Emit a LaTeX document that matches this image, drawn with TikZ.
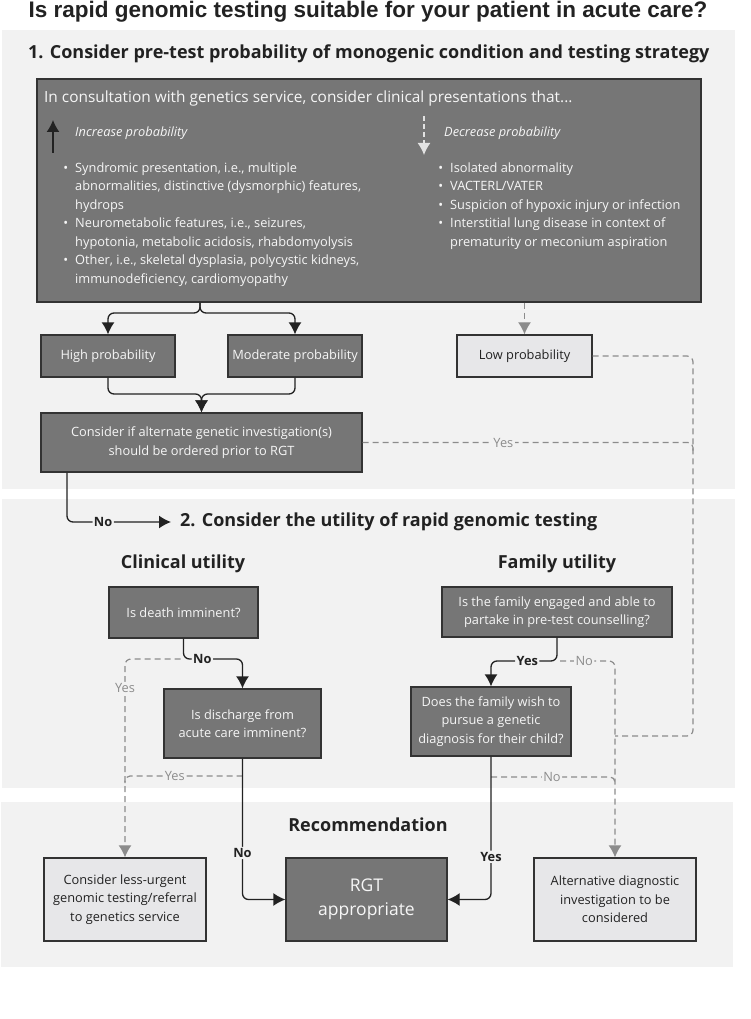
\documentclass[tikz,border=0pt]{standalone}
\usepackage{fontspec}
\setmainfont{Open Sans}
\newfontfamily\titlefont{Liberation Sans}
\usetikzlibrary{arrows.meta}
\tikzset{>={Latex[width=13pt,length=12pt]}}
\definecolor{ColorBg}{RGB}{242,242,242}
\definecolor{ColorDark}{RGB}{118,118,118}
\definecolor{ColorLight}{RGB}{231,231,233}
\definecolor{ColorEdge}{RGB}{51,51,51}
\definecolor{ColorDash}{RGB}{140,140,140}
\definecolor{ColorPale}{RGB}{226,226,226}
\definecolor{ColorText}{RGB}{246,246,246}
\definecolor{ColorInk}{RGB}{34,34,34}
\newcommand{\boxfont}{\fontsize{12.8}{18.5}\selectfont}
\newcommand{\headfont}{\fontsize{18}{22}\selectfont\bfseries}
\newcommand{\bul}{\llap{\textbullet\hspace{7pt}}}
\tikzset{
  darkbox/.style={draw=ColorEdge,line width=1.3pt,fill=ColorDark,text=ColorText,align=center,inner sep=0pt,font=\boxfont},
  lightbox/.style={darkbox,fill=ColorLight,text=ColorInk},
  conn/.style={draw=ColorInk,line width=1.3pt},
  dashline/.style={draw=ColorDash,line width=1.2pt,dash pattern=on 6pt off 4pt},
  lbl/.style={fill=ColorBg,inner sep=1.5pt,text=ColorDash,font=\boxfont},
  blbl/.style={fill=ColorBg,inner sep=1.5pt,text=ColorInk,font=\boxfont\bfseries},
  secHead/.style={inner sep=0pt,text=ColorInk,font=\headfont}
}

\begin{document}
\begin{tikzpicture}[x=1pt,y=-1pt]
		\useasboundingbox (0,0) rectangle (750,1019);
		% section backgrounds
		\fill[ColorBg] (2,30) rectangle (735,489);
		\fill[ColorBg] (2,499) rectangle (735,788);
		\fill[ColorBg] (1,802) rectangle (733,967);

		% title
		\node[anchor=base,inner sep=0pt,text=ColorInk] (title) at (368,18) {\titlefont\fontsize{22.5}{27}\selectfont\bfseries Is rapid genomic testing suitable for your patient in acute care?};

		% 1. pre-test probability
		\node[secHead,anchor=base west] (head1) at (28,59) {1. Consider pre-test probability of monogenic condition and testing strategy};
		\node[darkbox,minimum width=664,minimum height=223] (pres) at (369,190.5) {};
		\node[anchor=base west,inner sep=0pt,text=ColorText,font=\fontsize{15.4}{18}\selectfont] (intro) at (44,103) {In consultation with genetics service, consider clinical presentations that...};
		\node[anchor=west,inner sep=0pt,text=ColorText,font=\boxfont\itshape] (incr) at (75,133) {Increase probability};
		\node[anchor=west,inner sep=0pt,text=ColorText,font=\boxfont\itshape] (decr) at (444,133) {Decrease probability};
		\coordinate (upA) at (53,153);
		\coordinate (upB) at (53,120);
		\coordinate (dnA) at (424,116);
		\coordinate (dnB) at (424,155);
		\draw[->,conn] (upA) -- (upB);
		\draw[->,draw=ColorPale,line width=1.3pt,dash pattern=on 5pt off 3pt] (dnA) -- (dnB);
		\node[anchor=north west,inner sep=0pt,align=left,text=ColorText,font=\boxfont] (incrlist) at (75,162.5) {\bul Syndromic presentation, i.e., multiple\\abnormalities, distinctive (dysmorphic) features,\\hydrops\\\bul Neurometabolic features, i.e., seizures,\\hypotonia, metabolic acidosis, rhabdomyolysis\\\bul Other, i.e., skeletal dysplasia, polycystic kidneys,\\immunodeficiency, cardiomyopathy};
		\node[anchor=north west,inner sep=0pt,align=left,text=ColorText,font=\boxfont] (decrlist) at (450,162.5) {\bul Isolated abnormality\\\bul VACTERL/VATER\\\bul Suspicion of hypoxic injury or infection\\\bul Interstitial lung disease in context of\\prematurity or meconium aspiration};

		\node[darkbox,minimum width=134,minimum height=42] (high) at (108,356) {High probability};
		\node[darkbox,minimum width=134,minimum height=42] (mod) at (295,356) {Moderate probability};
		\node[lightbox,minimum width=135,minimum height=42] (low) at (524.5,356) {Low probability};
		\node[darkbox,minimum width=321,minimum height=59] (alt) at (201.5,442.5) {Consider if alternate genetic investigation(s)\\should be ordered prior to RGT};

		\coordinate (brc) at (200,313);
		\coordinate (mrg) at (0,394);
		\draw[->,conn,rounded corners=6] (pres.south -| brc) |- (high.north |- brc) -- (high.north);
		\draw[->,conn,rounded corners=6] (pres.south -| brc) |- (mod.north |- brc) -- (mod.north);
		\draw[->,conn,rounded corners=6] (high.south) |- (alt.north |- mrg) -- (alt.north);
		\draw[->,conn,rounded corners=6] (mod.south) |- (alt.north |- mrg) -- (alt.north);
		\draw[->,dashline] (pres.south -| low.north) -- (low.north);

		% 2. utility
		\node[secHead,anchor=west] (head2) at (180,522) {2. Consider the utility of rapid genomic testing};
		\coordinate (nox) at (67,0);
		\draw[->,conn,rounded corners=6,shorten >=9pt] (alt.south -| nox) |- node[blbl,pos=0.66] {No} (head2.west);

		\node[secHead] (clin) at (183,564) {Clinical utility};
		\node[secHead] (fam) at (557,564) {Family utility};
		\node[darkbox,minimum width=149,minimum height=51] (death) at (183.5,612.5) {Is death imminent?};
		\node[darkbox,minimum width=230,minimum height=50] (engage) at (557,612) {Is the family engaged and able to\\partake in pre-test counselling?};
		\node[darkbox,minimum width=157,minimum height=69] (disch) at (242.5,723.5) {Is discharge from\\acute care imminent?};
		\node[darkbox,minimum width=160,minimum height=69] (wish) at (491,721.5) {Does the family wish to\\pursue a genetic\\diagnosis for their child?};

		% 3. recommendation
		\node[secHead] (recom) at (368,825) {Recommendation};
		\node[lightbox,minimum width=162,minimum height=83] (lessurg) at (125,899.5) {Consider less-urgent\\genomic testing/referral\\to genetics service};
		\node[darkbox,minimum width=161,minimum height=83,font=\fontsize{17.5}{24}\selectfont] (rgt) at (366.5,899.5) {RGT\\appropriate};
		\node[lightbox,minimum width=162,minimum height=83] (altdx) at (615,899.5) {Alternative diagnostic\\investigation to be\\considered};

		% clinical branch
		\coordinate (rowA) at (0,659);
		\coordinate (rowB) at (0,776);
		\draw[->,dashline,rounded corners=6] ([xshift=-3pt]death.south |- rowA) -| node[lbl,pos=0.573] {Yes} (lessurg.north);
		\draw[dashline,rounded corners=5] (disch.south |- rowB) -| node[lbl,pos=0.288] {Yes} ([yshift=-7pt]lessurg.north |- rowB);
		\draw[->,conn,rounded corners=6] (death.south) |- node[blbl,pos=0.66] {No} (disch.north |- rowA) -- (disch.north);
		\draw[->,conn,rounded corners=6] (disch.south) |- node[blbl,pos=0.335] {No} (rgt.west);

		% family branch
		\coordinate (rowC) at (0,661);
		\coordinate (rowD) at (0,777);
		\coordinate (rcol) at (693,736);
		\draw[->,dashline,rounded corners=6] ([xshift=3pt]engage.south |- rowC) -| node[lbl,pos=0.22] {No} (altdx.north);
		\draw[dashline,rounded corners=5] (wish.south |- rowD) -| node[lbl,pos=0.246] {No} ([yshift=-7pt]altdx.north |- rowD);
		\draw[dashline,rounded corners=6] (low.east) -| (rcol) -- (altdx.north |- rcol);
		\draw[dashline,rounded corners=5] (alt.east) -| node[lbl,pos=0.213] {Yes} ([yshift=-8pt]alt.east -| rcol);
		\draw[->,conn,rounded corners=6] (engage.south) |- node[blbl,pos=0.725] {Yes} (wish.north |- rowC) -- (wish.north);
		\draw[->,conn,rounded corners=6] (wish.south) |- node[blbl,pos=0.35] {Yes} (rgt.east);
	\end{tikzpicture}
\end{document}
